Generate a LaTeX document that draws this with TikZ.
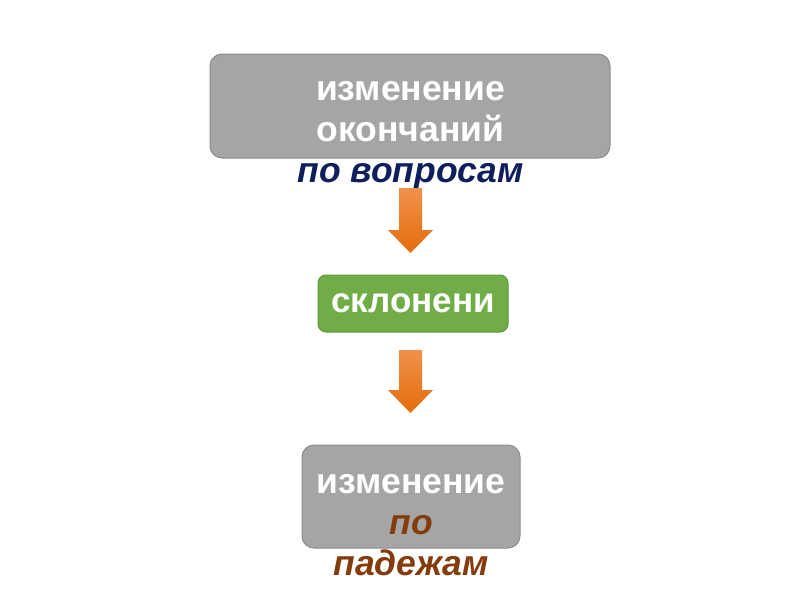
\documentclass[tikz,border=0pt]{standalone}
\usepackage{fontspec}
\setmainfont{Liberation Sans}
\definecolor{boxgray}{HTML}{A5A5A5}
\definecolor{boxgrayline}{HTML}{8C8C8C}
\definecolor{boxgreen}{HTML}{70AD47}
\definecolor{boxgreenline}{HTML}{5E9A3A}
\definecolor{navy}{HTML}{0E1F5C}
\definecolor{brownt}{HTML}{843C0C}
\definecolor{arrtop}{HTML}{F0914A}
\definecolor{arrbot}{HTML}{E46C0A}
\tikzset{
  grbox/.style={draw=boxgrayline, line width=1pt, fill=boxgray, rounded corners=12pt, inner sep=0pt},
  gnbox/.style={draw=boxgreenline, line width=1pt, fill=boxgreen, rounded corners=8pt, inner sep=0pt},
  lbl/.style={align=center, inner sep=0pt, font=\fontsize{35.5}{41}\selectfont\bfseries, text=white},
  arrfill/.style={top color=arrtop, bottom color=arrbot, draw=none}
}
\begin{document}
\begin{tikzpicture}[x=1pt,y=-1pt]
\useasboundingbox[fill=white] (0,0) rectangle (800,600);
% top box
\node[grbox, minimum width=400pt, minimum height=104pt] (top) at (410,106) {};
\node[lbl] (toptext) at (410.5,135.5) {изменение\\окончаний\\\textcolor{navy}{\itshape по вопросам}};
% arrow 1
\coordinate (a1) at (410.5,188);
\shade[arrfill] (a1) ++(-11.5,0) -- ++(23,0) -- ++(0,42) -- ++(11,0) -- ++(-22.5,23) -- ++(-22.5,-23) -- ++(11,0) -- cycle;
% green box
\node[gnbox, minimum width=190pt, minimum height=57pt, font=\fontsize{35}{41}\selectfont\bfseries, text=white] (mid) at (413,303.5) {\raisebox{-2pt}{склонени}};
% arrow 2
\coordinate (a2) at (410.5,350);
\shade[arrfill] (a2) ++(-11.5,0) -- ++(23,0) -- ++(0,40) -- ++(11,0) -- ++(-22.5,23) -- ++(-22.5,-23) -- ++(11,0) -- cycle;
% bottom box
\node[grbox, minimum width=218pt, minimum height=103pt] (bot) at (411,496.5) {};
\node[lbl] (bottext) at (411,525) {изменение\\\textcolor{brownt}{\itshape по}\\\textcolor{brownt}{\itshape падежам}};
\end{tikzpicture}
\end{document}
